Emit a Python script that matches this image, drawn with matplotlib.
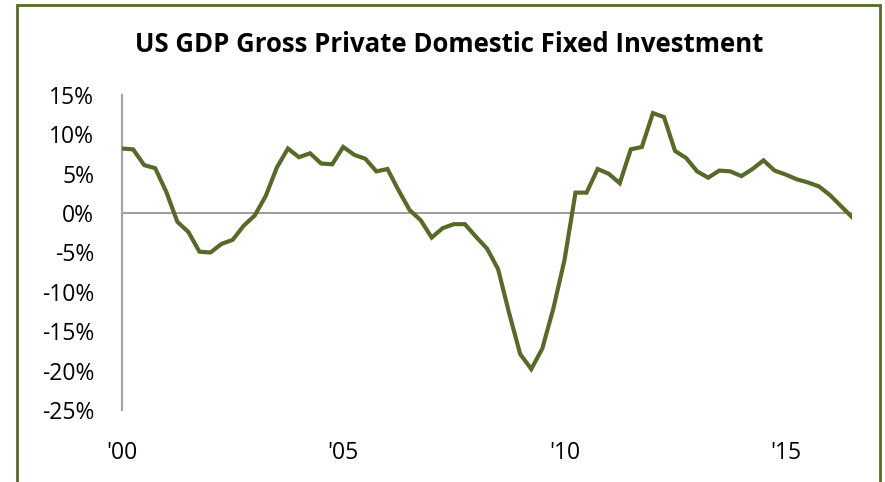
import matplotlib
matplotlib.use("Agg")
import matplotlib.pyplot as plt
from matplotlib.patches import Rectangle
import numpy as np

plt.rcParams['font.family'] = ['Open Sans', 'DejaVu Sans']

# Quarterly y/y growth, 2000 Q1 .. 2016 Q3 (percent)
start_year = 2000
growth = [
    8.2, 8.1, 6.1, 5.7,        # 2000
    2.7, -1.1, -2.4, -4.9,     # 2001
    -5.0, -3.9, -3.4, -1.6,    # 2002
    -0.3, 2.2, 5.8, 8.2,       # 2003
    7.1, 7.6, 6.3, 6.2,        # 2004
    8.4, 7.4, 6.9, 5.3,        # 2005
    5.6, 2.9, 0.4, -0.9,       # 2006
    -3.1, -1.9, -1.4, -1.4,    # 2007
    -3.0, -4.5, -7.1, -12.7,   # 2008
    -17.9, -19.8, -17.2, -12.1,  # 2009
    -6.0, 2.6, 2.6, 5.6,       # 2010
    5.0, 3.8, 8.1, 8.4,        # 2011
    12.7, 12.2, 7.9, 7.0,      # 2012
    5.3, 4.5, 5.4, 5.3,        # 2013
    4.7, 5.6, 6.7, 5.4,        # 2014
    4.9, 4.3, 3.9, 3.4,        # 2015
    2.3, 0.9, -0.5,            # 2016
]
year_ticks = [2000, 2005, 2010, 2015]
year_labels = ["'00", "'05", "'10", "'15"]
pct_ticks = [15, 10, 5, 0, -5, -10, -15, -20, -25]

olive = '#586a2a'

x = start_year + np.arange(len(growth)) / 4.0

fig = plt.figure(figsize=(8.85, 4.82), dpi=100)
ax = fig.add_axes([0.1379, 0.1494, 0.8248, 0.6535])

ax.plot(x, growth, color=olive, linewidth=3.0, solid_joinstyle='miter', zorder=3)
ax.axhline(0, color='#8c8c8c', linewidth=1.2, zorder=2)

ax.set_xlim(2000, x[-1])
ax.set_ylim(-25, 15)
ax.set_yticks(pct_ticks)
ax.set_yticklabels([f'{v}%' for v in pct_ticks])
ax.set_xticks(year_ticks)
ax.set_xticklabels(year_labels)

for side in ['top', 'right', 'bottom']:
    ax.spines[side].set_visible(False)
ax.spines['left'].set_color('#a6a6a6')
ax.spines['left'].set_linewidth(1.6)

ax.tick_params(axis='y', length=0, pad=20, labelsize=16.5)
ax.tick_params(axis='x', length=0, pad=22, labelsize=16.5)

fig.text(0.507, 0.907, 'US GDP Gross Private Domestic Fixed Investment',
         ha='center', va='center', fontsize=18.5, fontweight='bold')

# olive frame around the chart
fig.patches.append(Rectangle((16.5 / 885, -0.05), (880 - 16.5) / 885, 1.05 - 4.5 / 482,
                             transform=fig.transFigure, fill=False,
                             edgecolor=olive, linewidth=2.0))

fig.savefig('out.png', dpi=100)
